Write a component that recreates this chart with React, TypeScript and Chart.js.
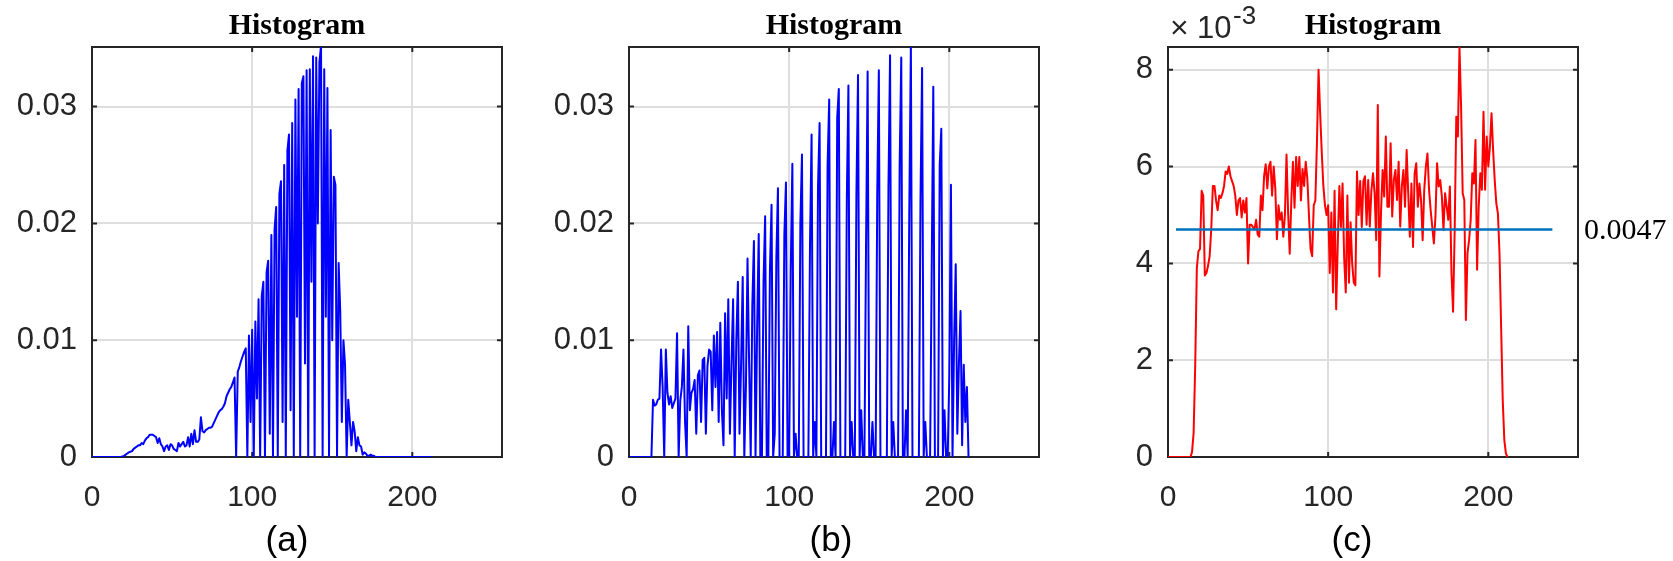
import React, { useEffect, useRef } from "react";
import { Chart, registerables } from "chart.js";

Chart.register(...registerables);

// ---------- data ----------
// bin index (gray level) 0..212
const bins: number[] = Array.from({ length: 213 }, (_, i) => i);

// (a) histogram
const histA: number[] = [
  0, 0, 0, 0, 0, 0, 0, 0, 0, 0,
  0, 0, 0, 0, 0, 0, 0, 0, 0, 0.00005,
  0.0001, 0.0002, 0.0003, 0.0004, 0.00045, 0.0005, 0.0007, 0.0008, 0.0009, 0.001,
  0.001, 0.0012, 0.0011, 0.0014, 0.0016, 0.0017, 0.0019, 0.0019, 0.0019, 0.0018,
  0.0017, 0.0012, 0.0016, 0.0011, 0.0009, 0.0005, 0.0009, 0.001, 0.0006, 0.0011,
  0.001, 0.0007, 0.0006, 0.0005, 0.0012, 0.0009, 0.0011, 0.0013, 0.0009, 0.001,
  0.0017, 0.0009, 0.002, 0.0011, 0.0023, 0.0013, 0.0013, 0.0015, 0.0034, 0.0022,
  0.0021, 0.0023, 0.0024, 0.0025, 0.0025, 0.0026, 0.0029, 0.0032, 0.0035, 0.0038,
  0.004, 0.0041, 0.0043, 0.0046, 0.0052, 0.0055, 0.0058, 0.006, 0.0064, 0.0068,
  0, 0.0073, 0.0077, 0.0082, 0.0086, 0.009, 0.0093, 0, 0.0104, 0.003,
  0.0109, 0, 0.0116, 0.005, 0.0135, 0, 0.0138, 0.015, 0, 0.0158,
  0.0168, 0.002, 0.019, 0, 0.0195, 0.0214, 0, 0.0225, 0.0236, 0.003,
  0.025, 0, 0.0262, 0.0276, 0.004, 0.0286, 0, 0.0306, 0.012, 0.0315,
  0, 0.032, 0.0326, 0.008, 0.0331, 0, 0.0332, 0.015, 0.0343, 0,
  0.0342, 0.02, 0.0338, 0.0352, 0, 0.0332, 0.012, 0.0316, 0, 0.028,
  0.01, 0.024, 0.0233, 0, 0.0166, 0.0125, 0.003, 0.01, 0.0079, 0,
  0.0049, 0.003, 0.001, 0.003, 0.0022, 0.0005, 0.0017, 0.001, 0.0009, 0.0002,
  0.0004, 0.0003, 0.0001, 0.0001, 0.0002, 0.0001, 0.0001, 0, 0, 0,
  0, 0, 0, 0, 0, 0, 0, 0, 0, 0,
  0, 0, 0, 0, 0, 0, 0, 0, 0, 0,
  0, 0, 0, 0, 0, 0, 0, 0, 0, 0,
  0, 0, 0,
];

// (b) histogram
const histB: number[] = [
  0, 0, 0, 0, 0, 0, 0, 0, 0, 0,
  0, 0, 0, 0, 0, 0.0049, 0.0044, 0.0045, 0.0049, 0.005,
  0.0092, 0.006, 0, 0.0092, 0.0055, 0.0045, 0.0052, 0.0042, 0.0046, 0.005,
  0.0106, 0, 0.0048, 0.006, 0.0092, 0.003, 0, 0.0112, 0.004, 0.0055,
  0.0058, 0.0066, 0.002, 0.007, 0.0074, 0.003, 0.0083, 0.0085, 0.002, 0.0078,
  0.0092, 0.009, 0.004, 0.0104, 0.006, 0.0107, 0.003, 0.0115, 0.004, 0.001,
  0.0123, 0.005, 0.0135, 0.002, 0.008, 0.0135, 0, 0.01, 0.015, 0.002,
  0.008, 0.0154, 0, 0.006, 0.017, 0.008, 0, 0.013, 0.0185, 0,
  0.011, 0.0191, 0, 0, 0.015, 0.0206, 0, 0, 0.016, 0.0216,
  0, 0.002, 0.017, 0.023, 0, 0, 0, 0.019, 0.0235, 0,
  0, 0.016, 0.0251, 0, 0.002, 0, 0, 0.02, 0.0259, 0,
  0, 0, 0, 0.018, 0.0276, 0, 0.003, 0, 0.023, 0.0286,
  0, 0, 0, 0, 0.025, 0.0306, 0, 0, 0.003, 0,
  0.029, 0.0315, 0, 0, 0, 0, 0.022, 0.0318, 0, 0.003,
  0, 0, 0.0225, 0.0327, 0, 0.004, 0, 0, 0.018, 0.033,
  0, 0, 0.003, 0, 0, 0.0225, 0.0331, 0, 0, 0,
  0, 0, 0.023, 0.0344, 0, 0.003, 0, 0, 0, 0.025,
  0.0342, 0, 0, 0.004, 0, 0.021, 0.0352, 0, 0, 0,
  0, 0, 0.022, 0.0333, 0, 0.003, 0, 0, 0, 0.016,
  0.0317, 0, 0, 0, 0.025, 0.0281, 0, 0.004, 0, 0,
  0.007, 0.0233, 0, 0.01, 0.0165, 0.002, 0.008, 0.0125, 0.001, 0.0079,
  0.003, 0.006, 0,
];

// (c) histogram, in units of 10^-3
const histC: number[] = [
  0, 0, 0, 0, 0, 0, 0, 0, 0, 0,
  0, 0, 0, 0, 0, 0.1, 0.5, 1.9, 3.9, 4.25,
  4.3, 5.5, 5.4, 3.75, 3.8, 3.95, 4.15, 4.7, 5.6, 5.6,
  5.3, 5.1, 5.4, 5.35, 5.45, 5.6, 5.9, 5.85, 6.0, 5.8,
  5.7, 5.6, 5.4, 5.0, 5.3, 5.35, 4.95, 5.3, 5.05, 5.35,
  4.0, 4.8, 4.8, 4.75, 4.7, 4.9, 4.6, 4.55, 5.4, 5.1,
  5.8, 6.05, 5.55, 6.0, 6.1, 5.4, 6.0, 5.55, 4.5, 5.2,
  4.9, 5.05, 4.55, 5.0, 6.25, 5.05, 4.2, 5.3, 6.1, 5.15,
  6.2, 5.6, 6.2, 5.3, 5.95, 5.6, 6.1, 5.75, 5.0, 4.3,
  4.15, 5.2, 5.3, 6.5, 8.0, 7.1, 6.3, 5.6, 5.2, 5.0,
  5.2, 3.8, 5.05, 3.4, 5.5, 3.05, 4.4, 5.6, 4.75, 5.65,
  4.1, 3.4, 5.4, 3.6, 4.85, 4.0, 3.6, 3.55, 5.9, 5.0,
  5.7, 4.75, 5.7, 5.8, 4.8, 5.72, 4.76, 5.5, 5.86, 5.45,
  4.48, 7.27, 3.73, 5.04, 5.93, 5.38, 6.62, 5.17, 5.17, 6.48,
  4.97, 5.72, 5.93, 5.31, 6.1, 4.76, 5.59, 5.93, 5.17, 6.34,
  5.45, 4.55, 5.65, 4.34, 5.86, 6.07, 5.17, 5.65, 5.31, 4.48,
  5.52, 6.0, 6.27, 5.52, 5.1, 4.76, 4.41, 4.97, 6.07, 5.59,
  5.72, 5.38, 4.69, 5.45, 5.17, 4.9, 5.59, 3.8, 3.0, 4.69,
  7.03, 6.62, 8.47, 7.24, 5.45, 5.31, 2.83, 4.21, 4.48, 4.9,
  5.86, 5.65, 6.55, 3.87, 5.17, 5.86, 5.52, 7.13, 5.52, 6.62,
  6.0, 6.41, 7.1, 6.34, 5.72, 5.24, 5.03, 4.2, 2.69, 1.18,
  0.35, 0.07, 0,
];

// uniform reference level in (c), units of 10^-3
const meanLineX: number[] = [5, 240];
const meanValueC = 4.7;
const meanLabel = "0.0047";

const xTicks: number[] = [0, 100, 200];
const yTicksAB: number[] = [0, 0.01, 0.02, 0.03];
const yTicksC: number[] = [0, 2, 4, 6, 8];
const titleText = "Histogram";
const panelLabels: string[] = ["(a)", "(b)", "(c)"];
const exponentTimes = "\u00d7";
const exponentBase = "10";
const exponentPower = "-3";

// ---------- layout ----------
const PAGE_W = 1673;
const PAGE_H = 561;
const AREA_TOP = 47;
const AREA_BOTTOM = 457;

const SANS = '"Liberation Sans", Arial, Helvetica, sans-serif';
const SERIF = '"Liberation Serif", "Times New Roman", Times, serif';
const AXIS_COLOR = "#262626";
const GRID_COLOR = "#dedede";

type PanelCfg = {
  canvasLeft: number;
  canvasWidth: number;
  areaLeft: number;
  areaRight: number;
  labelX: number;
  label: string;
  series: number[];
  color: string;
  yMax: number;
  yTicks: number[];
  fmt: (v: number) => string;
  isC: boolean;
};

const panels: PanelCfg[] = [
  {
    canvasLeft: 0, canvasWidth: 540, areaLeft: 92, areaRight: 502, labelX: 287,
    label: panelLabels[0], series: histA, color: "#0000ff", yMax: 0.0351,
    yTicks: yTicksAB, fmt: (v) => (v === 0 ? "0" : v.toFixed(2)), isC: false,
  },
  {
    canvasLeft: 540, canvasWidth: 540, areaLeft: 629, areaRight: 1039, labelX: 831,
    label: panelLabels[1], series: histB, color: "#0000ff", yMax: 0.0351,
    yTicks: yTicksAB, fmt: (v) => (v === 0 ? "0" : v.toFixed(2)), isC: false,
  },
  {
    canvasLeft: 1100, canvasWidth: 573, areaLeft: 1168, areaRight: 1578, labelX: 1352,
    label: panelLabels[2], series: histC, color: "#ff0000", yMax: 8.47,
    yTicks: yTicksC, fmt: (v) => String(v), isC: true,
  },
];

function makeDecor(p: PanelCfg) {
  return {
    id: "decor",
    beforeDatasetsDraw(chart: any) {
      const { ctx, chartArea: a, scales } = chart;
      ctx.save();
      ctx.strokeStyle = AXIS_COLOR;
      ctx.lineWidth = 2;
      const tl = 5;
      ctx.beginPath();
      for (const t of scales.x.ticks) {
        const px = scales.x.getPixelForValue(t.value);
        ctx.moveTo(px, a.bottom);
        ctx.lineTo(px, a.bottom - tl);
        ctx.moveTo(px, a.top);
        ctx.lineTo(px, a.top + tl);
      }
      for (const t of scales.y.ticks) {
        const py = scales.y.getPixelForValue(t.value);
        ctx.moveTo(a.left, py);
        ctx.lineTo(a.left + tl, py);
        ctx.moveTo(a.right, py);
        ctx.lineTo(a.right - tl, py);
      }
      ctx.stroke();
      ctx.strokeRect(a.left, a.top, a.right - a.left, a.bottom - a.top);
      ctx.restore();
    },
    afterDraw(chart: any) {
      const { ctx, chartArea: a, scales } = chart;
      ctx.save();
      // title
      ctx.fillStyle = "#000";
      ctx.font = `bold 30px ${SERIF}`;
      ctx.textAlign = "center";
      ctx.textBaseline = "alphabetic";
      ctx.fillText(titleText, (a.left + a.right) / 2, 34);
      // panel label
      ctx.font = `35px ${SANS}`;
      ctx.fillText(p.label, p.labelX - p.canvasLeft, 551);
      if (p.isC) {
        // exponent
        ctx.fillStyle = AXIS_COLOR;
        ctx.textAlign = "left";
        ctx.font = `32px ${SANS}`;
        ctx.fillText(exponentTimes, a.left + 2, 38);
        ctx.font = `31px ${SANS}`;
        ctx.fillText(exponentBase, a.left + 29, 38);
        ctx.font = `26px ${SANS}`;
        ctx.fillText(exponentPower, a.left + 65, 24);
        // mean value label
        ctx.fillStyle = "#000";
        ctx.font = `30px ${SERIF}`;
        ctx.textBaseline = "middle";
        ctx.fillText(meanLabel, a.right + 6, scales.y.getPixelForValue(meanValueC) + 2);
      }
      ctx.restore();
    },
  };
}

function buildChart(canvas: HTMLCanvasElement, p: PanelCfg): Chart {
  const datasets: any[] = [];
  if (p.isC) {
    datasets.push({
      data: meanLineX.map((x) => ({ x, y: meanValueC })),
      borderColor: "#0072bd",
      borderWidth: 2.5,
      pointRadius: 0,
      fill: false,
    });
  }
  datasets.push({
    data: bins.map((x, i) => ({ x, y: p.series[i] })),
    borderColor: p.color,
    borderWidth: 2,
    borderJoinStyle: "round",
    pointRadius: 0,
    tension: 0,
    fill: false,
  });

  return new Chart(canvas, {
    type: "line",
    data: { datasets },
    plugins: [makeDecor(p)],
    options: {
      animation: false,
      responsive: false,
      maintainAspectRatio: false,
      devicePixelRatio: 1,
      events: [],
      layout: {
        padding: {
          left: 0,
          top: AREA_TOP,
          right: p.canvasWidth - (p.areaRight - p.canvasLeft),
          bottom: 0,
        },
      },
      plugins: {
        legend: { display: false },
        title: { display: false },
        tooltip: { enabled: false },
      },
      scales: {
        x: {
          type: "linear",
          min: 0,
          max: 256,
          afterBuildTicks: (s: any) => {
            s.ticks = xTicks.map((v) => ({ value: v }));
          },
          afterFit: (s: any) => {
            s.height = PAGE_H - AREA_BOTTOM;
          },
          grid: { color: GRID_COLOR, lineWidth: 2, drawTicks: false },
          border: { display: false },
          ticks: {
            autoSkip: false,
            maxRotation: 0,
            padding: 23,
            color: AXIS_COLOR,
            font: { family: SANS, size: 30 },
            callback: (v: any) => String(v),
          },
        },
        y: {
          type: "linear",
          min: 0,
          max: p.yMax,
          afterBuildTicks: (s: any) => {
            s.ticks = p.yTicks.map((v) => ({ value: v }));
          },
          afterFit: (s: any) => {
            s.width = p.areaLeft - p.canvasLeft;
          },
          grid: { color: GRID_COLOR, lineWidth: 2, drawTicks: false },
          border: { display: false },
          ticks: {
            autoSkip: false,
            padding: 15,
            color: AXIS_COLOR,
            font: { family: SANS, size: 31 },
            callback: (v: any) => p.fmt(Number(v)),
          },
        },
      },
    } as any,
  });
}

export default function App() {
  const r0 = useRef<HTMLCanvasElement>(null);
  const r1 = useRef<HTMLCanvasElement>(null);
  const r2 = useRef<HTMLCanvasElement>(null);
  const refs = [r0, r1, r2];

  useEffect(() => {
    const charts: Chart[] = [];
    panels.forEach((p, i) => {
      const c = refs[i].current;
      if (c) charts.push(buildChart(c, p));
    });
    return () => charts.forEach((c) => c.destroy());
  }, []);

  return (
    <div
      style={{
        position: "absolute",
        left: 0,
        top: 0,
        width: PAGE_W,
        height: PAGE_H,
        background: "#fff",
        overflow: "hidden",
      }}
    >
      {panels.map((p, i) => (
        <canvas
          key={i}
          ref={refs[i]}
          width={p.canvasWidth}
          height={PAGE_H}
          style={{
            position: "absolute",
            left: p.canvasLeft,
            top: 0,
            width: p.canvasWidth,
            height: PAGE_H,
          }}
        />
      ))}
    </div>
  );
}
